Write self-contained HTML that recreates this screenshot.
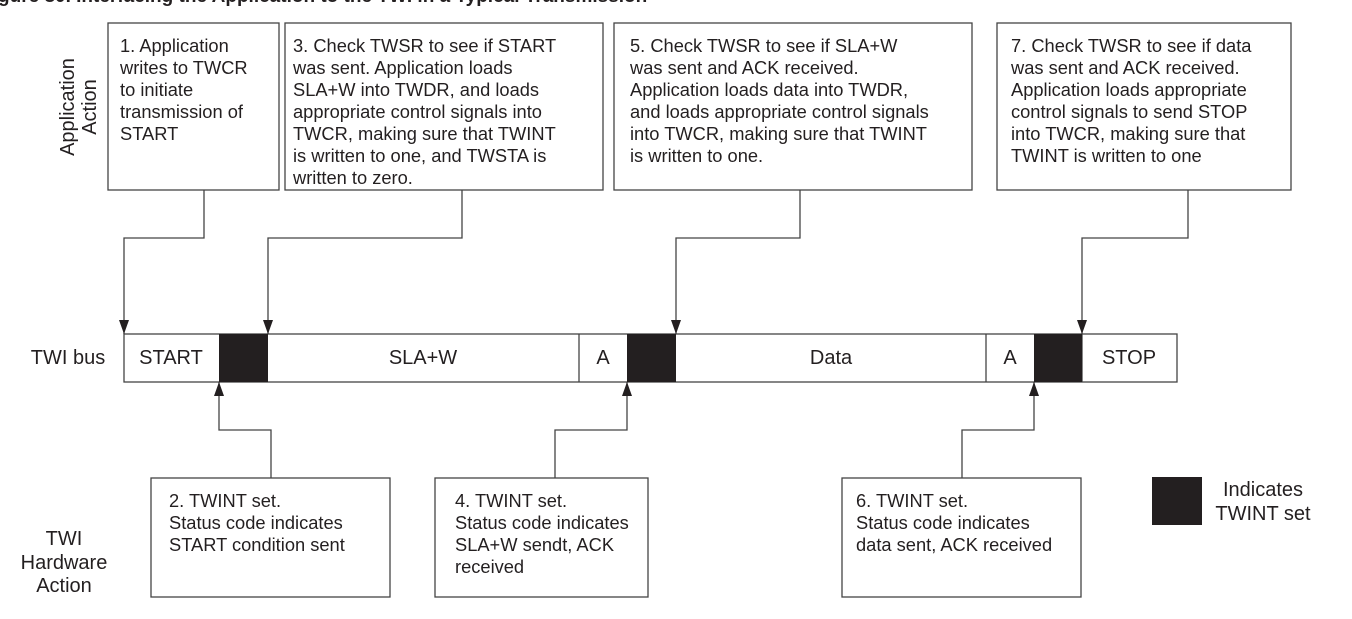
<!DOCTYPE html>
<html><head><meta charset="utf-8"><style>
html,body{margin:0;padding:0;background:#fff;}
svg{display:block;}
text{font-family:"Liberation Sans",Arial,sans-serif;font-size:18.3px;fill:#231f20;}
.b{font-size:20px;}
</style></head><body>
<svg width="1352" height="619" viewBox="0 0 1352 619" xmlns="http://www.w3.org/2000/svg">
<defs><marker id="a" markerWidth="14" markerHeight="10" refX="14" refY="5" orient="auto" markerUnits="userSpaceOnUse" viewBox="0 0 14 10"><path d="M0,0 L14,5 L0,10 z" fill="#231f20"/></marker></defs>
<text x="-2" y="2" style="font-weight:bold;font-size:19px">gure 80. Interfacing the Application to the TWI in a Typical Transmission</text>
<g fill="none" stroke="#444" stroke-width="1.3">
<rect x="108" y="23" width="171" height="167"/>
<rect x="285" y="23" width="318" height="167"/>
<rect x="614" y="23" width="358" height="167"/>
<rect x="997" y="23" width="294" height="167"/>
<rect x="151" y="478" width="239" height="119"/>
<rect x="435" y="478" width="213" height="119"/>
<rect x="842" y="478" width="239" height="119"/>
<rect x="124" y="334" width="1053" height="48"/>
<line x1="579" y1="334" x2="579" y2="382"/>
<line x1="986" y1="334" x2="986" y2="382"/>
<line x1="1082" y1="334" x2="1082" y2="382"/>
<polyline points="204,190 204,238 124,238 124,334" marker-end="url(#a)"/>
<polyline points="462,190 462,238 268,238 268,334" marker-end="url(#a)"/>
<polyline points="800,190 800,238 676,238 676,334" marker-end="url(#a)"/>
<polyline points="1188,190 1188,238 1082,238 1082,334" marker-end="url(#a)"/>
<polyline points="271,478 271,430 219,430 219,382" marker-end="url(#a)"/>
<polyline points="555,478 555,430 627,430 627,382" marker-end="url(#a)"/>
<polyline points="962,478 962,430 1034,430 1034,382" marker-end="url(#a)"/>
</g>
<g fill="#231f20">
<rect x="219" y="334" width="49" height="48"/>
<rect x="627" y="334" width="49" height="48"/>
<rect x="1034" y="334" width="48" height="48"/>
<rect x="1152" y="477" width="50" height="48"/>
</g>
<text class="b" transform="translate(74,107) rotate(-90)" text-anchor="middle"><tspan x="0" y="0">Application</tspan><tspan x="0" y="22">Action</tspan></text>
<text class="b" x="68" y="364" text-anchor="middle">TWI bus</text>
<text class="b" text-anchor="middle"><tspan x="64" y="545">TWI</tspan><tspan x="64" y="569">Hardware</tspan><tspan x="64" y="592">Action</tspan></text>
<text class="b" x="1263" y="496" text-anchor="middle">Indicates</text>
<text class="b" x="1263" y="520" text-anchor="middle">TWINT set</text>
<g class="b">
<text class="b" x="171" y="364" text-anchor="middle">START</text>
<text class="b" x="423" y="364" text-anchor="middle">SLA+W</text>
<text class="b" x="603" y="364" text-anchor="middle">A</text>
<text class="b" x="831" y="364" text-anchor="middle">Data</text>
<text class="b" x="1010" y="364" text-anchor="middle">A</text>
<text class="b" x="1129" y="364" text-anchor="middle">STOP</text>
</g>
<text><tspan x="120" y="52">1. Application</tspan><tspan x="120" y="74">writes to TWCR</tspan><tspan x="120" y="96">to initiate</tspan><tspan x="120" y="118">transmission of</tspan><tspan x="120" y="140">START</tspan></text>
<text><tspan x="293" y="52">3. Check TWSR to see if START</tspan><tspan x="293" y="74">was sent. Application loads</tspan><tspan x="293" y="96">SLA+W into TWDR, and loads</tspan><tspan x="293" y="118">appropriate control signals into</tspan><tspan x="293" y="140">TWCR, making sure that TWINT</tspan><tspan x="293" y="162">is written to one, and TWSTA is</tspan><tspan x="293" y="184">written to zero.</tspan></text>
<text><tspan x="630" y="52">5. Check TWSR to see if SLA+W</tspan><tspan x="630" y="74">was sent and ACK received.</tspan><tspan x="630" y="96">Application loads data into TWDR,</tspan><tspan x="630" y="118">and loads appropriate control signals</tspan><tspan x="630" y="140">into TWCR, making sure that TWINT</tspan><tspan x="630" y="162">is written to one.</tspan></text>
<text><tspan x="1011" y="52">7. Check TWSR to see if data</tspan><tspan x="1011" y="74">was sent and ACK received.</tspan><tspan x="1011" y="96">Application loads appropriate</tspan><tspan x="1011" y="118">control signals to send STOP</tspan><tspan x="1011" y="140">into TWCR, making sure that</tspan><tspan x="1011" y="162">TWINT is written to one</tspan></text>
<text><tspan x="169" y="507">2. TWINT set.</tspan><tspan x="169" y="529">Status code indicates</tspan><tspan x="169" y="551">START condition sent</tspan></text>
<text><tspan x="455" y="507">4. TWINT set.</tspan><tspan x="455" y="529">Status code indicates</tspan><tspan x="455" y="551">SLA+W sendt, ACK</tspan><tspan x="455" y="573">received</tspan></text>
<text><tspan x="856" y="507">6. TWINT set.</tspan><tspan x="856" y="529">Status code indicates</tspan><tspan x="856" y="551">data sent, ACK received</tspan></text>
</svg>
</body></html>
